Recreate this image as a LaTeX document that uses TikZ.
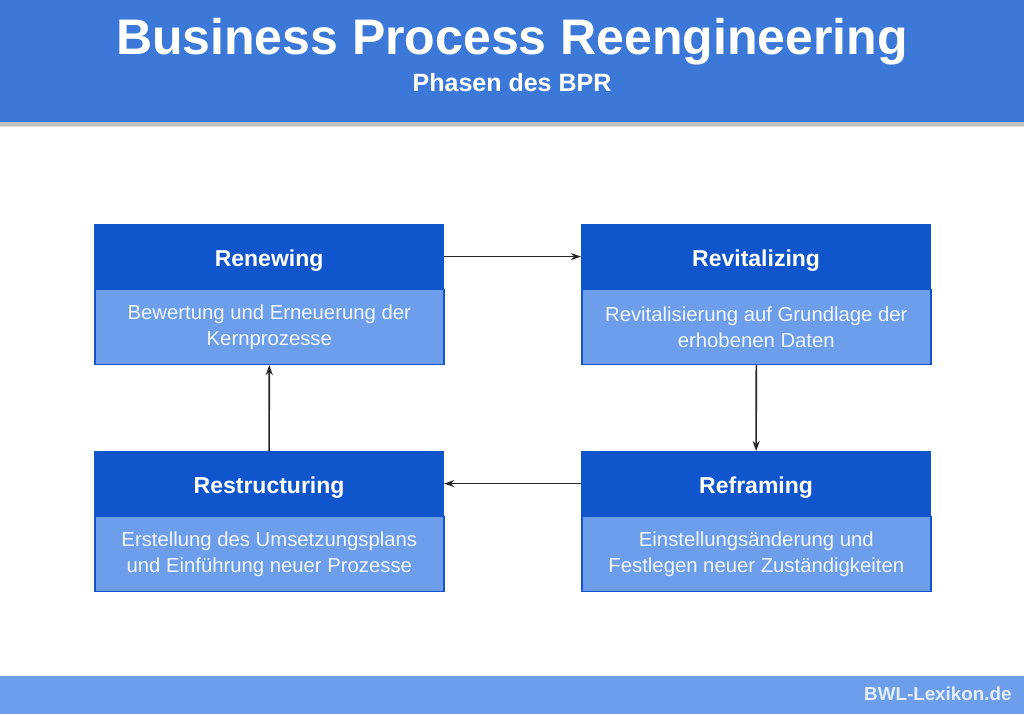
\documentclass[tikz,border=0pt]{standalone}
\usepackage{fontspec}
\setmainfont{Liberation Sans}
\usetikzlibrary{arrows.meta}
\definecolor{hdrblue}{HTML}{3C78D8}
\definecolor{darkblue}{HTML}{1155CC}
\definecolor{lightblue}{HTML}{6D9EEB}
\definecolor{softwhite}{HTML}{F2F6FD}
\definecolor{footwhite}{HTML}{E6EEFB}
\tikzset{
  boxhead/.style={anchor=north west, fill=darkblue, draw=darkblue, line width=1.2pt,
    minimum width=349pt, minimum height=64pt, inner sep=0pt, text=white,
    text height=22.7pt, text depth=3.3pt,
    font=\fontsize{23}{26}\selectfont\bfseries},
  boxbody/.style={anchor=north west, fill=lightblue, draw=darkblue, line width=1.6pt,
    minimum width=349pt, minimum height=75pt, inner sep=0pt, text=softwhite,
    align=center, font=\fontsize{20.3}{26}\selectfont},
  flow/.style={draw=black!85, line width=1.6pt, -{Stealth[length=10pt,width=7pt]}}
}
\begin{document}
\begin{tikzpicture}[x=1pt,y=-1pt]
\useasboundingbox (0,0) rectangle (1024,714);
% header
\fill[black!25] (0,122) rectangle (1024,126);
\fill[black!12] (0,126) rectangle (1024,127);
\fill[hdrblue] (0,0) rectangle (1024,122.5);
\node[text=white, font=\fontsize{50}{50}\selectfont\bfseries, anchor=base] (title) at (512,55) {Business Process Reengineering};
\node[text=white, font=\fontsize{25}{25}\selectfont\bfseries, anchor=base] (subtitle) at (512,92) {Phasen des BPR};
% footer
\fill[lightblue] (0,676) rectangle (1024,714);
\node[text=footwhite, font=\fontsize{18.8}{19}\selectfont\bfseries, anchor=base east] (footer) at (1015,700) {BWL-Lexikon.de};
% boxes
\node[boxhead] (renT) at (94,224) {Renewing};
\node[boxbody] (renB) at (94,288.5) {Bewertung und Erneuerung der\\Kernprozesse};
\node[boxhead] (revT) at (581,224) {Revitalizing};
\node[boxbody] (revB) at (581,288.5) {Revitalisierung auf Grundlage der\\erhobenen Daten};
\node[boxhead] (resT) at (94,451) {Restructuring};
\node[boxbody] (resB) at (94,515.5) {Erstellung des Umsetzungsplans\\und Einführung neuer Prozesse};
\node[boxhead] (refT) at (581,451) {Reframing};
\node[boxbody] (refB) at (581,515.5) {Einstellungsänderung und\\Festlegen neuer Zuständigkeiten};
% connectors
\draw[flow] (renT.east) -- (revT.west);
\draw[flow] (revB.south) -- (refT.north);
\draw[flow] (refT.west) -- (resT.east);
\draw[flow] (resT.north) -- (renB.south);
\end{tikzpicture}
\end{document}
